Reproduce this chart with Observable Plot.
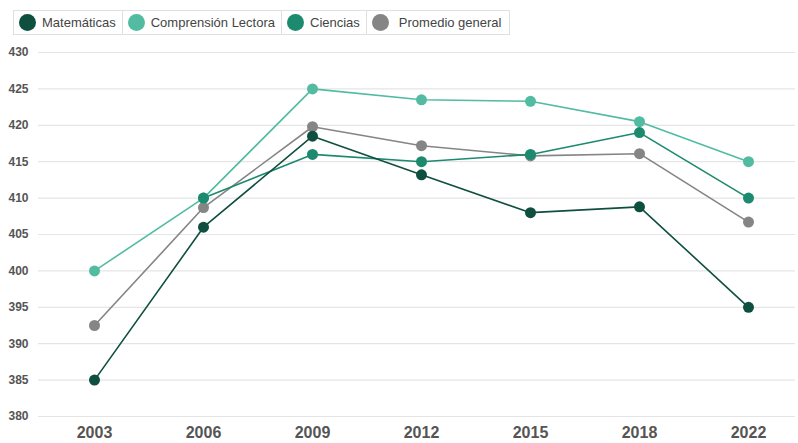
<!DOCTYPE html>
<html>
<head>
<meta charset="utf-8">
<script src="https://cdn.jsdelivr.net/npm/d3@7"></script>
<script src="https://cdn.jsdelivr.net/npm/@observablehq/plot@0.6"></script>
<style>
  html, body { margin: 0; padding: 0; background: #fff; }
  body { width: 798px; height: 443px; overflow: hidden; font-family: "Liberation Sans", Arial, sans-serif; }
  #legend { height: 38px; position: relative; }
  #legend .box { position: absolute; left: 13px; top: 10px; display: flex; border: 1px solid #e0e0e0; height: 23px; }
  #legend .item { display: flex; align-items: center; padding: 0 6px 0 5px; border-right: 1px solid #e0e0e0; font-size: 13px; color: #444; }
  #legend .item:last-child { border-right: none; padding-right: 8px; }
  #legend .sw { width: 17px; height: 17px; border-radius: 50%; margin-right: 6px; }
  #legend .item.last .sw { margin-right: 10px; }
  #chart svg { display: block; }
</style>
</head>
<body>
<div id="legend"><div class="box"></div></div>
<div id="chart"></div>
<script>
const years = ["2003", "2006", "2009", "2012", "2015", "2018", "2022"];
const seriesNames = ["Matemáticas", "Comprensión Lectora", "Ciencias", "Promedio general"];
const seriesColors = ["#0f4f40", "#52bba2", "#1b8a6f", "#858585"];
const matematicas = [385, 406, 418.5, 413.2, 408, 408.8, 395];
const lectora = [400, 410, 425, 423.5, 423.3, 420.5, 415];
const ciencias = [null, 410, 416, 415, 416, 419, 410];
const promedio = [392.5, 408.7, 419.8, 417.2, 415.8, 416.1, 406.7];
const yTicks = [380, 385, 390, 395, 400, 405, 410, 415, 420, 425, 430];

const allSeries = [matematicas, lectora, ciencias, promedio];
const data = [];
allSeries.forEach((vals, i) => {
  vals.forEach((v, j) => {
    if (v != null) data.push({serie: seriesNames[i], year: years[j], value: v});
  });
});
const order = ["Promedio general", "Comprensión Lectora", "Ciencias", "Matemáticas"];

const box = document.querySelector("#legend .box");
seriesNames.forEach((n, i) => {
  const it = document.createElement("div");
  it.className = "item" + (i === seriesNames.length - 1 ? " last" : "");
  it.innerHTML = `<span class="sw" style="background:${seriesColors[i]}"></span><span>${n}</span>`;
  box.appendChild(it);
});

const color = {domain: seriesNames, range: seriesColors};
const marks = [
  Plot.ruleY(yTicks, {stroke: "#e5e5e5", strokeWidth: 1.2}),
  Plot.axisY({ticks: yTicks, tickSize: 0, tickPadding: 10, fontSize: 12, fontWeight: "bold", fill: "#555", textAnchor: "end"}),
  Plot.axisX({tickSize: 0, tickPadding: 10, fontSize: 16, fontWeight: "bold", fill: "#555", fontFamily: "'Liberation Sans Narrow', 'Arial Narrow', sans-serif"})
];
order.forEach(name => {
  const d = data.filter(r => r.serie === name);
  marks.push(Plot.line(d, {x: "year", y: "value", stroke: "serie", strokeWidth: 1.6}));
});
order.forEach(name => {
  const d = data.filter(r => r.serie === name);
  marks.push(Plot.dot(d, {x: "year", y: "value", fill: "serie", r: 5.5, stroke: "none"}));
});

const plot = Plot.plot({
  width: 798,
  height: 405,
  marginLeft: 38,
  marginRight: 3,
  marginTop: 14,
  marginBottom: 27,
  style: {fontFamily: "'Liberation Sans', Arial, sans-serif", background: "#fff"},
  x: {type: "point", domain: years, range: [93, 748], padding: 0, label: null},
  y: {domain: [380, 430], label: null},
  color,
  marks
});
document.getElementById("chart").appendChild(plot);
</script>
</body>
</html>
